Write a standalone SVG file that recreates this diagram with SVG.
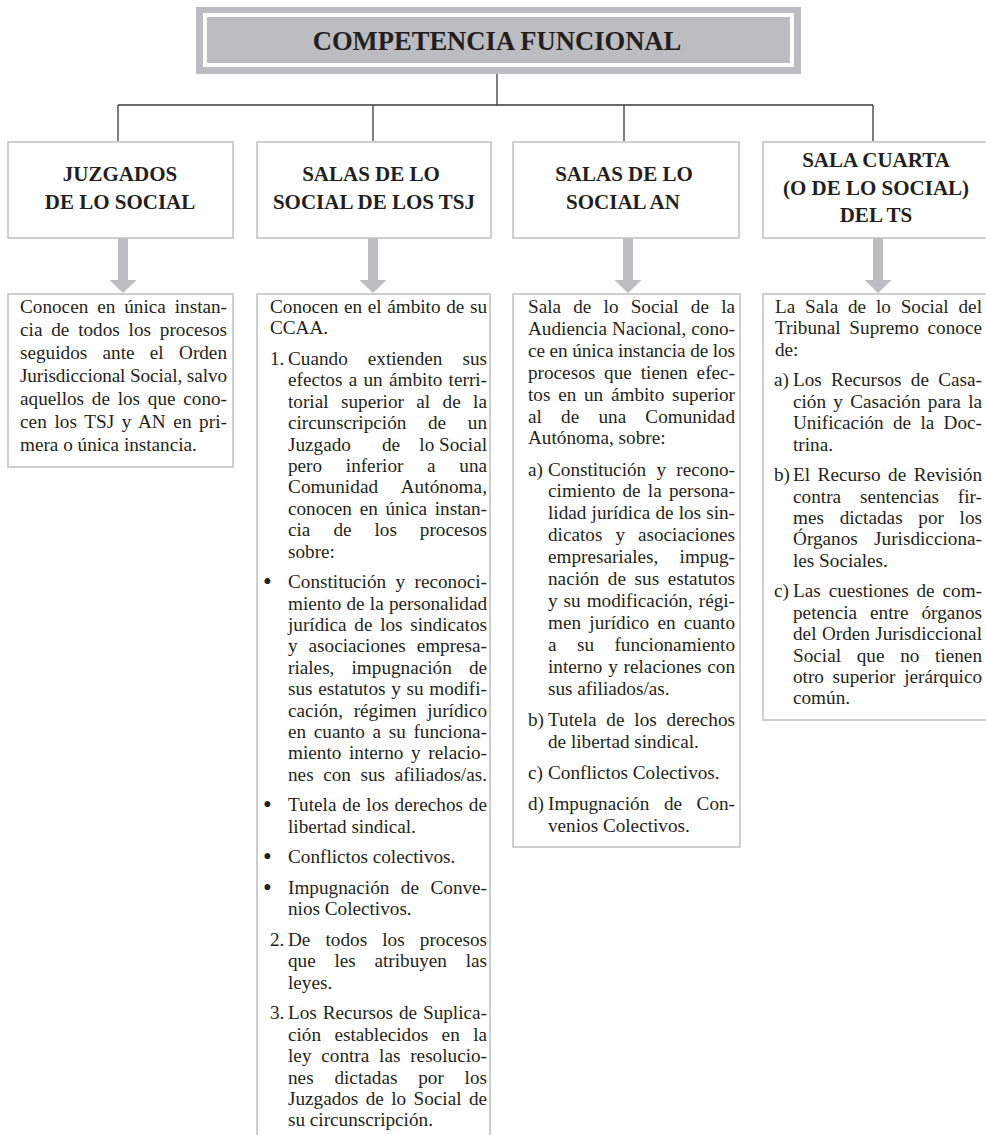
<svg xmlns="http://www.w3.org/2000/svg" width="986" height="1135" viewBox="0 0 986 1135">
<style>
.t{font-family:"Liberation Serif","Times New Roman",serif;font-size:19.2px;fill:#231f20}
.b{font-family:"Liberation Serif","Times New Roman",serif;font-size:25px;fill:#231f20}
.h{font-family:"Liberation Serif","Times New Roman",serif;font-size:21px;font-weight:bold;fill:#231f20;text-anchor:middle}
.ttl{font-family:"Liberation Serif","Times New Roman",serif;font-size:26.6px;font-weight:bold;fill:#231f20;text-anchor:middle}
.box{fill:#fff;stroke:#c3c4c6;stroke-width:1.6}
.conn{stroke:#3a3a3a;stroke-width:1.3;fill:none}
.arr{fill:#bcbdc0}
.e{text-anchor:end}
</style>
<rect width="986" height="1135" fill="#fff"/>

<g id="connectors">
<path class="conn" d="M497,74V105M118,105H873M118,105V141M373,105V141M624,105V141M873,105V141"/>
<path class="arr" d="M118,238H128V280H136.5L123,293L109.5,280H118Z"/>
<path class="arr" d="M368,238H378V280H386.5L373,293L359.5,280H368Z"/>
<path class="arr" d="M623,238H633V280H641.5L628,293L614.5,280H623Z"/>
<path class="arr" d="M873,238H883V280H891.5L878,293L864.5,280H873Z"/>
</g>

<g id="title">
<rect x="196" y="7" width="605" height="67" fill="#bcbdc0"/>
<rect x="205" y="15" width="587" height="50" fill="none" stroke="#fff" stroke-width="4"/>
<text class="ttl" x="497" y="50">COMPETENCIA FUNCIONAL</text>
</g>

<g id="hdr-juzgados">
<rect class="box" x="8" y="142" width="225" height="96"/>
<text class="h" x="120" y="181">JUZGADOS</text>
<text class="h" x="120" y="209">DE LO SOCIAL</text>
</g>
<g id="hdr-tsj">
<rect class="box" x="257" y="142" width="234" height="96"/>
<text class="h" x="371" y="181">SALAS DE LO</text>
<text class="h" x="374" y="209">SOCIAL DE LOS TSJ</text>
</g>
<g id="hdr-an">
<rect class="box" x="513" y="142" width="226" height="96"/>
<text class="h" x="624" y="181">SALAS DE LO</text>
<text class="h" x="623" y="209">SOCIAL AN</text>
</g>
<g id="hdr-ts">
<rect class="box" x="763" y="142" width="232" height="96"/>
<text class="h" x="876" y="167">SALA CUARTA</text>
<text class="h" x="876" y="194.5">(O DE LO SOCIAL)</text>
<text class="h" x="876" y="222">DEL TS</text>
</g>

<g id="body-juzgados">
<rect class="box" x="8" y="294" width="225" height="173"/>
<text class="t" x="20" y="313" word-spacing="4.1" textLength="207" lengthAdjust="spacing">Conocen en única instan-</text>
<text class="t" x="20" y="336" word-spacing="4" textLength="207" lengthAdjust="spacing">cia de todos los procesos</text>
<text class="t" x="20" y="359" word-spacing="10.5" textLength="207" lengthAdjust="spacing">seguidos ante el Orden</text>
<text class="t" x="20" y="382" textLength="207" lengthAdjust="spacing">Jurisdiccional Social, salvo</text>
<text class="t" x="20" y="405" word-spacing="2.9" textLength="207" lengthAdjust="spacing">aquellos de los que cono-</text>
<text class="t" x="20" y="428" word-spacing="2.7" textLength="207" lengthAdjust="spacing">cen los TSJ y AN en pri-</text>
<text class="t" x="20" y="451">mera o única instancia.</text>
</g>

<g id="body-tsj">
<rect class="box" x="257" y="294" width="233" height="900"/>
<text class="t" x="270" y="313" word-spacing="0.8" textLength="217" lengthAdjust="spacing">Conocen en el ámbito de su</text>
<text class="t" x="270" y="334.4">CCAA.</text>
<text class="t" x="270" y="365">1.</text>
<text class="t" x="288" y="365" word-spacing="15.2" textLength="199" lengthAdjust="spacing">Cuando extienden sus</text>
<text class="t" x="288" y="386.4" word-spacing="1.5" textLength="199" lengthAdjust="spacing">efectos a un ámbito terri-</text>
<text class="t" x="288" y="407.8" word-spacing="7.6" textLength="199" lengthAdjust="spacing">torial superior al de la</text>
<text class="t" x="288" y="429.2" word-spacing="16.9" textLength="199" lengthAdjust="spacing">circunscripción de un</text>
<text class="t" x="288" y="450.6">Juzgado</text>
<text class="t" x="382" y="450.6">de</text>
<text class="t e" x="487" y="450.6">lo Social</text>
<text class="t" x="288" y="472" word-spacing="18.9" textLength="199" lengthAdjust="spacing">pero inferior a una</text>
<text class="t" x="288" y="493.4" word-spacing="18.7" textLength="199" lengthAdjust="spacing">Comunidad Autónoma,</text>
<text class="t" x="288" y="514.8" word-spacing="2.9" textLength="199" lengthAdjust="spacing">conocen en única instan-</text>
<text class="t" x="288" y="536.2" word-spacing="18.2" textLength="199" lengthAdjust="spacing">cia de los procesos</text>
<text class="t" x="288" y="557.6">sobre:</text>
<text class="b" x="263" y="590.2">•</text>
<text class="t" x="288" y="588.2" word-spacing="4.6" textLength="199" lengthAdjust="spacing">Constitución y reconoci-</text>
<text class="t" x="288" y="609.6" word-spacing="0.4" textLength="199" lengthAdjust="spacing">miento de la personalidad</text>
<text class="t" x="288" y="631" word-spacing="2.9" textLength="199" lengthAdjust="spacing">jurídica de los sindicatos</text>
<text class="t" x="288" y="652.4" word-spacing="6.2" textLength="199" lengthAdjust="spacing">y asociaciones empresa-</text>
<text class="t" x="288" y="673.8" word-spacing="12.3" textLength="199" lengthAdjust="spacing">riales, impugnación de</text>
<text class="t" x="288" y="695.2" word-spacing="0.9" textLength="199" lengthAdjust="spacing">sus estatutos y su modifi-</text>
<text class="t" x="288" y="716.6" word-spacing="5.9" textLength="199" lengthAdjust="spacing">cación, régimen jurídico</text>
<text class="t" x="288" y="738" word-spacing="2.8" textLength="199" lengthAdjust="spacing">en cuanto a su funciona-</text>
<text class="t" x="288" y="759.4" word-spacing="2.9" textLength="199" lengthAdjust="spacing">miento interno y relacio-</text>
<text class="t" x="288" y="780.8" word-spacing="4.8" textLength="199" lengthAdjust="spacing">nes con sus afiliados/as.</text>
<text class="b" x="263" y="813.4">•</text>
<text class="t" x="288" y="811.4" word-spacing="1" textLength="199" lengthAdjust="spacing">Tutela de los derechos de</text>
<text class="t" x="288" y="832.8">libertad sindical.</text>
<text class="b" x="263" y="865.4">•</text>
<text class="t" x="288" y="863.4">Conflictos colectivos.</text>
<text class="b" x="263" y="896">•</text>
<text class="t" x="288" y="894" word-spacing="6.7" textLength="199" lengthAdjust="spacing">Impugnación de Conve-</text>
<text class="t" x="288" y="915.4">nios Colectivos.</text>
<text class="t" x="270" y="946">2.</text>
<text class="t" x="288" y="946" word-spacing="10.3" textLength="199" lengthAdjust="spacing">De todos los procesos</text>
<text class="t" x="288" y="967.4" word-spacing="13.9" textLength="199" lengthAdjust="spacing">que les atribuyen las</text>
<text class="t" x="288" y="988.8">leyes.</text>
<text class="t" x="270" y="1019.4">3.</text>
<text class="t" x="288" y="1019.4" word-spacing="1.1" textLength="199" lengthAdjust="spacing">Los Recursos de Suplica-</text>
<text class="t" x="288" y="1040.8" word-spacing="8.6" textLength="199" lengthAdjust="spacing">ción establecidos en la</text>
<text class="t" x="288" y="1062.2" word-spacing="5" textLength="199" lengthAdjust="spacing">ley contra las resolucio-</text>
<text class="t" x="288" y="1083.6" word-spacing="16" textLength="199" lengthAdjust="spacing">nes dictadas por los</text>
<text class="t" x="288" y="1105" word-spacing="2.6" textLength="199" lengthAdjust="spacing">Juzgados de lo Social de</text>
<text class="t" x="288" y="1126.4">su circunscripción.</text>
</g>

<g id="body-an">
<rect class="box" x="513" y="294" width="227" height="553"/>
<text class="t" x="528" y="313" word-spacing="7.4" textLength="207" lengthAdjust="spacing">Sala de lo Social de la</text>
<text class="t" x="528" y="334.9" word-spacing="0.3" textLength="207" lengthAdjust="spacing">Audiencia Nacional, cono-</text>
<text class="t" x="528" y="356.8" textLength="207" lengthAdjust="spacing">ce en única instancia de los</text>
<text class="t" x="528" y="378.7" word-spacing="4.1" textLength="207" lengthAdjust="spacing">procesos que tienen efec-</text>
<text class="t" x="528" y="400.6" word-spacing="2.9" textLength="207" lengthAdjust="spacing">tos en un ámbito superior</text>
<text class="t" x="528" y="422.5" word-spacing="14.4" textLength="207" lengthAdjust="spacing">al de una Comunidad</text>
<text class="t" x="528" y="444.4">Autónoma, sobre:</text>
<text class="t" x="528" y="475.5">a)</text>
<text class="t" x="548" y="475.5" word-spacing="5.5" textLength="187" lengthAdjust="spacing">Constitución y recono-</text>
<text class="t" x="548" y="497.4" word-spacing="2.4" textLength="187" lengthAdjust="spacing">cimiento de la persona-</text>
<text class="t" x="548" y="519.3" word-spacing="0.3" textLength="187" lengthAdjust="spacing">lidad jurídica de los sin-</text>
<text class="t" x="548" y="541.2" word-spacing="8.2" textLength="187" lengthAdjust="spacing">dicatos y asociaciones</text>
<text class="t" x="548" y="563.1" word-spacing="16.4" textLength="187" lengthAdjust="spacing">empresariales, impug-</text>
<text class="t" x="548" y="585" word-spacing="3.8" textLength="187" lengthAdjust="spacing">nación de sus estatutos</text>
<text class="t" x="548" y="606.9" word-spacing="1.2" textLength="187" lengthAdjust="spacing">y su modificación, régi-</text>
<text class="t" x="548" y="628.8" word-spacing="3.5" textLength="187" lengthAdjust="spacing">men jurídico en cuanto</text>
<text class="t" x="548" y="650.7" word-spacing="15.6" textLength="187" lengthAdjust="spacing">a su funcionamiento</text>
<text class="t" x="548" y="672.6" word-spacing="1" textLength="187" lengthAdjust="spacing">interno y relaciones con</text>
<text class="t" x="548" y="694.5">sus afiliados/as.</text>
<text class="t" x="528" y="725.6">b)</text>
<text class="t" x="548" y="725.6" word-spacing="4.9" textLength="187" lengthAdjust="spacing">Tutela de los derechos</text>
<text class="t" x="548" y="747.5">de libertad sindical.</text>
<text class="t" x="528" y="778.6">c)</text>
<text class="t" x="548" y="778.6">Conflictos Colectivos.</text>
<text class="t" x="528" y="809.7">d)</text>
<text class="t" x="548" y="809.7" word-spacing="9.8" textLength="187" lengthAdjust="spacing">Impugnación de Con-</text>
<text class="t" x="548" y="831.6">venios Colectivos.</text>
</g>

<g id="body-ts">
<rect class="box" x="763" y="294" width="232" height="426"/>
<text class="t" x="775" y="313" word-spacing="5" textLength="207" lengthAdjust="spacing">La Sala de lo Social del</text>
<text class="t" x="775" y="334.4" word-spacing="3.8" textLength="207" lengthAdjust="spacing">Tribunal Supremo conoce</text>
<text class="t" x="775" y="355.8">de:</text>
<text class="t" x="774" y="386.4">a)</text>
<text class="t" x="793" y="386.4" word-spacing="4.5" textLength="189" lengthAdjust="spacing">Los Recursos de Casa-</text>
<text class="t" x="793" y="407.8" word-spacing="2.5" textLength="189" lengthAdjust="spacing">ción y Casación para la</text>
<text class="t" x="793" y="429.2" word-spacing="4.5" textLength="189" lengthAdjust="spacing">Unificación de la Doc-</text>
<text class="t" x="793" y="450.6">trina.</text>
<text class="t" x="774" y="481.2">b)</text>
<text class="t" x="793" y="481.2" word-spacing="2.7" textLength="189" lengthAdjust="spacing">El Recurso de Revisión</text>
<text class="t" x="793" y="502.6" word-spacing="14" textLength="189" lengthAdjust="spacing">contra sentencias fir-</text>
<text class="t" x="793" y="524" word-spacing="10.9" textLength="189" lengthAdjust="spacing">mes dictadas por los</text>
<text class="t" x="793" y="545.4" word-spacing="11.4" textLength="189" lengthAdjust="spacing">Órganos Jurisdicciona-</text>
<text class="t" x="793" y="566.8">les Sociales.</text>
<text class="t" x="774" y="597.4">c)</text>
<text class="t" x="793" y="597.4" word-spacing="3.1" textLength="189" lengthAdjust="spacing">Las cuestiones de com-</text>
<text class="t" x="793" y="618.8" word-spacing="8.1" textLength="189" lengthAdjust="spacing">petencia entre órganos</text>
<text class="t" x="793" y="640.2" word-spacing="0.6" textLength="189" lengthAdjust="spacing">del Orden Jurisdiccional</text>
<text class="t" x="793" y="661.6" word-spacing="10.9" textLength="189" lengthAdjust="spacing">Social que no tienen</text>
<text class="t" x="793" y="683" word-spacing="3.9" textLength="189" lengthAdjust="spacing">otro superior jerárquico</text>
<text class="t" x="793" y="704.4">común.</text>
</g>
</svg>
